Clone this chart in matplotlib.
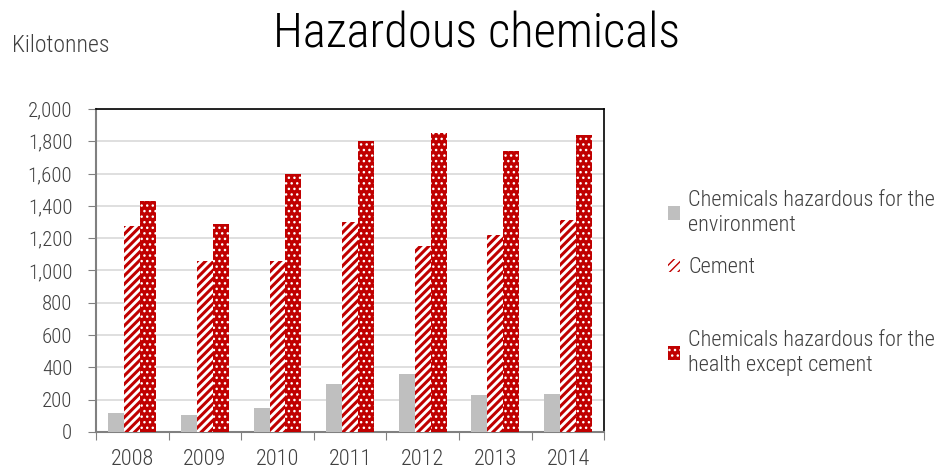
import numpy as np
import matplotlib.pyplot as plt

plt.rcParams['font.family'] = ['Roboto Condensed', 'DejaVu Sans']
plt.rcParams['font.weight'] = 300

# Data (kilotonnes)
years = ['2008', '2009', '2010', '2011', '2012', '2013', '2014']
environment = [115, 105, 147, 295, 357, 231, 233]
cement = [1275, 1060, 1060, 1298, 1152, 1222, 1313]
health = [1430, 1290, 1595, 1802, 1851, 1740, 1839]

labels = ['Chemicals hazardous for the\nenvironment',
          'Cement',
          'Chemicals hazardous for the\nhealth except cement']

red = '#C00000'
text_col = '#404040'

fig = plt.figure(figsize=(9.4, 4.7), dpi=100)
ax = fig.add_axes([0.102, 0.081, 0.541, 0.687])

x = np.arange(len(years))
w = 0.22
b1 = ax.bar(x - w, environment, w, color='#BFBFBF', linewidth=0, zorder=3)
plt.rcParams['hatch.linewidth'] = 2.2
b2 = ax.bar(x, cement, w, facecolor='white', edgecolor=red, hatch='////', linewidth=0, zorder=3)
plt.rcParams['hatch.linewidth'] = 1.0
b3 = ax.bar(x + w, health, w, facecolor=red, edgecolor='white', hatch='...', linewidth=0, zorder=3)

ax.set_xlim(-0.5, len(years) - 0.5)
ax.set_ylim(0, 2000)
ax.set_yticks(np.arange(0, 2001, 200))
ax.set_yticklabels(['{:,}'.format(v) for v in range(0, 2001, 200)])
ax.yaxis.grid(True, color='#D9D9D9', linewidth=1.2, zorder=0)

# category ticks at boundaries, labels at centers
ax.set_xticks(np.arange(-0.5, len(years), 1.0))
ax.set_xticklabels([])
ax.set_xticks(x, minor=True)
ax.set_xticklabels(years, minor=True)
ax.tick_params(axis='x', which='major', length=6, color='#808080', direction='out')
ax.tick_params(axis='x', which='minor', length=0, pad=12, labelsize=16, labelcolor=text_col)
ax.tick_params(axis='y', length=6, color='#808080', direction='out', pad=11,
               labelsize=15, labelcolor=text_col)

for s in ['left', 'bottom']:
    ax.spines[s].set_color('#808080')
    ax.spines[s].set_linewidth(1.5)
for s in ['top', 'right']:
    ax.spines[s].set_color('black')
    ax.spines[s].set_linewidth(1.2)

fig.text(0.507, 0.898, 'Hazardous chemicals', ha='center', va='baseline', fontsize=35, color='black')
fig.text(0.0128, 0.889, 'Kilotonnes', ha='left', va='baseline', fontsize=17, color=text_col)

# legend entries placed one by one (uneven spacing as in the original)
for handle, label, ypos in zip([b1, b2, b3], labels, [0.547, 0.430, 0.249]):
    leg = fig.legend(handles=[handle], labels=[label], loc='center left',
                     bbox_to_anchor=(0.7106, ypos), frameon=False, fontsize=16,
                     handlelength=0.55, handleheight=0.55, handletextpad=0.36,
                     borderpad=0, borderaxespad=0)
    for t in leg.get_texts():
        t.set_color(text_col)

fig.savefig('out.png', dpi=100)
